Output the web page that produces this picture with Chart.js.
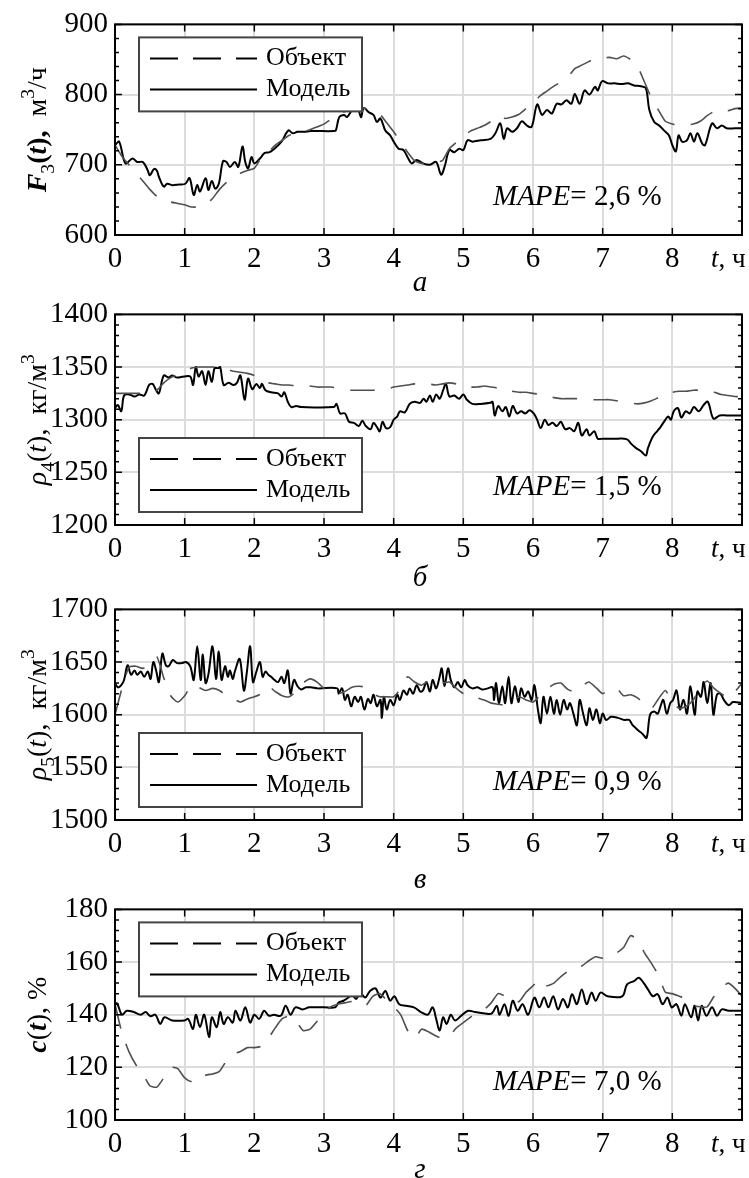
<!DOCTYPE html>
<html>
<head>
<meta charset="utf-8">
<script src="https://cdn.jsdelivr.net/npm/chart.js@4.4.1/dist/chart.umd.min.js"></script>
<style>
  body { margin: 0; background: #fff; width: 749px; height: 1178px; position: relative; overflow: hidden; }
  canvas { position: absolute; left: 0; }
</style>
</head>
<body>
<canvas id="p1" width="749" height="300" style="top:0px"></canvas>
<canvas id="p2" width="749" height="305" style="top:290px"></canvas>
<canvas id="p3" width="749" height="310" style="top:585px"></canvas>
<canvas id="p4" width="749" height="293" style="top:885px"></canvas>
<script>
// time grid of the "Объект" curves, h
const objHours = [0,0.1,0.2,0.3,0.4,0.5,0.6,0.7,0.8,0.9,1,1.1,1.2,1.3,1.4,1.5,1.6,1.7,1.8,1.9,2,2.1,2.2,2.3,2.4,2.5,2.6,2.7,2.8,2.9,3,3.1,3.2,3.3,3.4,3.5,3.6,3.7,3.8,3.9,4,4.1,4.2,4.3,4.4,4.5,4.6,4.7,4.8,4.9,5,5.1,5.2,5.3,5.4,5.5,5.6,5.7,5.8,5.9,6,6.1,6.2,6.3,6.4,6.5,6.6,6.7,6.8,6.9,7,7.1,7.2,7.3,7.4,7.5,7.6,7.7,7.8,7.9,8,8.1,8.2,8.3,8.4,8.5,8.6,8.7,8.8,8.9,9];
const xTicks = [0, 1, 2, 3, 4, 5, 6, 7, 8];

// --- a: F3(t), м3/ч
const f3Object = [728,712,700,688,677,665,655,650,647,645,643,640,640,643,652,665,675,683,688,692,695,710,718,728,735,742,745,747,750,754,758,765,770,776,780,782,780,776,772,760,747,733,718,706,702,702,704,706,723,732,740,748,752,756,762,770,766,768,772,780,788,798,805,812,818,825,837,842,847,852,852,853,851,855,850,840,818,795,778,762,758,756,757,758,762,770,776,778,777,780,781];
const f3ModelT = [0,.06,.15,.25,.32,.4,.47,.5,.56,.6,.63,.7,.75,.82,.92,1.01,1.07,1.13,1.18,1.22,1.3,1.34,1.39,1.44,1.49,1.55,1.6,1.65,1.72,1.77,1.83,1.87,1.91,1.96,2,2.08,2.15,2.22,2.29,2.39,2.49,2.55,2.62,2.72,2.81,3.14,3.17,3.22,3.29,3.33,3.4,3.47,3.53,3.57,3.64,3.71,3.76,3.81,3.88,3.95,4,4.07,4.14,4.21,4.26,4.33,4.42,4.52,4.61,4.68,4.73,4.8,4.87,4.94,5,5.06,5.13,5.25,5.39,5.46,5.53,5.58,5.63,5.7,5.77,5.84,5.91,5.98,6.06,6.13,6.2,6.27,6.34,6.41,6.48,6.55,6.6,6.67,6.74,6.81,6.89,6.93,6.99,7.08,7.17,7.27,7.36,7.45,7.55,7.62,7.67,7.74,7.81,7.88,7.95,8,8.05,8.09,8.14,8.21,8.26,8.31,8.36,8.43,8.47,8.57,8.64,8.71,8.78,8.9,9];
const f3Model = [728,733,702,709,704,704,692,685,694,692,683,669,673,671,672,673,681,657,671,662,681,664,677,666,673,705,704,697,704,697,726,704,695,711,702,709,717,718,723,733,749,745,747,747,748,748,749,768,771,768,778,787,768,781,775,771,761,766,749,742,733,723,721,709,702,707,702,700,704,686,697,721,718,723,721,735,733,735,737,745,759,737,752,747,752,762,756,754,786,771,778,773,787,786,792,787,801,787,806,800,811,806,819,816,816,815,816,813,812,809,778,761,756,749,742,728,719,742,733,735,745,733,745,730,728,759,752,756,752,752,752];

// --- б: ρ4(t), кг/м3
const r4Object = [1325,1325,1325,1325,1325,1326,1328,1335,1340,1343,1346,1349,1350,1350,1350,1350,1348,1346,1345,1344,1342,1338,1335,1334,1333,1333,1332,1332,1332,1331,1331,1331,1330,1329,1328,1328,1328,1328,1328,1329,1331,1332,1333,1334,1334,1334,1333,1334,1335,1334,1332,1331,1331,1332,1331,1330,1328,1327,1326,1326,1325,1324,1322,1321,1320,1320,1320,1320,1319,1319,1319,1319,1318,1317,1316,1315,1316,1318,1321,1324,1326,1327,1327,1328,1328,1327,1326,1324,1323,1322,1322];
const r4ModelT = [0,.04,.09,.13,.2,.28,.35,.42,.49,.54,.59,.63,.7,.77,.82,.89,.99,1.08,1.12,1.16,1.2,1.25,1.3,1.34,1.39,1.43,1.48,1.51,1.56,1.63,1.7,1.75,1.8,1.86,1.91,1.97,2.03,2.08,2.11,2.16,2.24,2.34,2.39,2.43,2.48,2.53,2.6,2.67,3.14,3.18,3.23,3.3,3.36,3.43,3.5,3.55,3.6,3.67,3.71,3.76,3.8,3.84,3.89,3.95,4,4.05,4.09,4.16,4.23,4.3,4.38,4.43,4.47,4.52,4.56,4.61,4.66,4.71,4.75,4.8,4.87,4.94,5,5.05,5.13,5.25,5.39,5.42,5.45,5.5,5.56,5.61,5.66,5.71,5.77,5.83,5.89,5.95,6.01,6.06,6.11,6.17,6.22,6.28,6.34,6.4,6.46,6.53,6.59,6.65,6.7,6.77,6.81,6.88,6.93,7,7.12,7.22,7.31,7.36,7.41,7.48,7.55,7.62,7.65,7.72,7.78,7.83,7.88,7.94,7.98,8.02,8.08,8.13,8.19,8.25,8.31,8.38,8.45,8.51,8.59,8.68,8.78,9];
const r4Model = [1311,1314,1308,1323,1324,1322,1324,1323,1333,1334,1328,1325,1342,1340,1342,1340,1341,1341,1333,1350,1341,1346,1333,1346,1336,1349,1349,1350,1333,1335,1333,1335,1342,1319,1339,1329,1334,1330,1334,1328,1326,1325,1322,1326,1317,1312,1313,1312,1312,1315,1306,1306,1298,1297,1294,1299,1294,1291,1297,1293,1289,1298,1292,1293,1300,1303,1308,1307,1315,1317,1316,1320,1317,1323,1317,1324,1320,1328,1334,1322,1323,1320,1324,1319,1315,1315,1316,1317,1304,1313,1308,1312,1303,1313,1306,1308,1306,1309,1306,1300,1292,1300,1295,1297,1294,1298,1291,1292,1289,1297,1285,1291,1285,1289,1282,1282,1282,1282,1282,1281,1277,1273,1270,1266,1273,1284,1289,1293,1298,1303,1300,1308,1311,1302,1308,1306,1312,1308,1314,1317,1301,1304,1304,1304];

// --- в: ρ5(t), кг/м3
const r5Object = [1600,1625,1645,1646,1644,1648,1655,1635,1618,1612,1618,1628,1626,1623,1625,1623,1618,1615,1612,1615,1617,1620,1627,1622,1618,1617,1622,1630,1634,1631,1625,1620,1620,1622,1626,1627,1626,1620,1617,1617,1617,1625,1636,1631,1628,1632,1632,1630,1631,1625,1620,1619,1616,1614,1611,1610,1609,1613,1617,1614,1612,1618,1624,1629,1630,1624,1622,1627,1631,1626,1620,1624,1625,1618,1619,1616,1610,1606,1615,1623,1612,1606,1608,1614,1625,1632,1625,1620,1616,1622,1630];
const r5ModelT = [0,.04,.09,.13,.18,.23,.28,.32,.37,.42,.47,.51,.55,.59,.63,.68,.73,.77,.83,.89,.96,1.02,1.08,1.13,1.18,1.23,1.26,1.3,1.34,1.4,1.45,1.49,1.53,1.58,1.62,1.65,1.69,1.72,1.79,1.85,1.89,1.94,1.98,2.03,2.08,2.12,2.16,2.2,2.24,2.29,2.34,2.39,2.43,2.48,2.52,2.57,2.62,2.67,2.74,2.81,2.91,3.19,3.21,3.26,3.3,3.34,3.39,3.44,3.49,3.53,3.58,3.63,3.67,3.71,3.76,3.81,3.83,3.86,3.9,3.95,4,4.05,4.09,4.14,4.19,4.23,4.28,4.33,4.38,4.42,4.47,4.52,4.56,4.61,4.66,4.69,4.73,4.78,4.82,4.87,4.92,4.97,5.02,5.06,5.13,5.2,5.27,5.35,5.42,5.44,5.47,5.51,5.56,5.6,5.65,5.69,5.74,5.79,5.83,5.88,5.93,5.98,6.02,6.07,6.11,6.15,6.2,6.25,6.3,6.34,6.39,6.44,6.49,6.53,6.58,6.63,6.67,6.72,6.77,6.81,6.86,6.91,6.96,7,7.05,7.12,7.22,7.31,7.38,7.43,7.48,7.53,7.57,7.63,7.68,7.74,7.79,7.83,7.87,7.92,7.97,8.01,8.06,8.11,8.16,8.21,8.26,8.32,8.36,8.41,8.45,8.5,8.55,8.59,8.64,8.69,8.74,8.81,8.87,9];
const r5Model = [1630,1626,1628,1633,1647,1638,1642,1638,1641,1636,1641,1634,1650,1642,1631,1658,1647,1646,1652,1649,1649,1650,1646,1633,1665,1633,1657,1630,1638,1665,1634,1660,1633,1646,1636,1642,1634,1641,1653,1623,1639,1665,1631,1641,1650,1636,1641,1638,1636,1633,1631,1636,1630,1642,1620,1633,1627,1624,1626,1626,1625,1625,1620,1625,1614,1619,1608,1617,1612,1617,1605,1615,1611,1619,1608,1614,1597,1617,1605,1614,1609,1619,1614,1623,1619,1625,1620,1628,1622,1623,1631,1622,1633,1625,1636,1644,1627,1644,1633,1626,1631,1626,1633,1628,1625,1626,1624,1625,1626,1614,1630,1611,1627,1611,1636,1611,1627,1612,1625,1617,1622,1614,1628,1605,1592,1617,1601,1617,1601,1614,1600,1614,1605,1611,1601,1590,1614,1601,1590,1606,1595,1605,1592,1601,1595,1598,1597,1595,1595,1590,1587,1584,1582,1578,1600,1603,1601,1608,1614,1601,1611,1614,1623,1605,1614,1601,1627,1600,1622,1617,1631,1611,1630,1600,1619,1620,1614,1609,1612,1611];

// --- г: c(t), %
const cObject = [144,133,126,121,117.5,113,112.5,116,120,119.5,116,114.5,114.5,117,117.5,118.5,122.5,125,126,127.5,127.5,128,131,135,138.5,139.5,137.5,134,134.5,137.5,141,143,144,144.5,145,144,143.5,147,148,145.5,143,140,134,131,134.5,133.5,132,131,132,135,137,139,141,142,144.5,148,147,145,145,148.5,151,153.5,151,152,154.5,156.5,158,158.5,160.5,162,161.5,163,163.5,165.5,170,168.5,163.5,159.5,155,148.5,148,147,146,143.5,143,143,147,150,152,150,147];
const cModelT = [0,.03,.1,.17,.27,.37,.44,.51,.58,.65,.71,.82,1,1.05,1.12,1.16,1.22,1.28,1.35,1.39,1.46,1.51,1.56,1.62,1.69,1.73,1.8,1.87,1.94,2,2.07,2.14,2.21,2.28,2.38,2.45,2.52,2.59,2.69,2.79,3,3.16,3.21,3.28,3.35,3.4,3.46,3.52,3.59,3.66,3.74,3.81,3.88,3.95,4.01,4.08,4.18,4.29,4.39,4.49,4.56,4.61,4.66,4.71,4.76,4.82,4.88,4.97,5.07,5.17,5.31,5.41,5.48,5.52,5.59,5.65,5.71,5.78,5.85,5.93,6.02,6.09,6.16,6.22,6.29,6.36,6.43,6.5,6.56,6.63,6.7,6.77,6.84,6.9,6.97,7.07,7.28,7.35,7.45,7.52,7.59,7.65,7.72,7.79,7.86,7.93,7.99,8.06,8.13,8.18,8.27,8.32,8.37,8.42,8.49,8.57,8.64,8.71,8.81,9];
const cModel = [144,144.3,140,141.5,141,140,141,139.4,140,136.5,139,137.8,137.8,138.4,134.6,140,135.3,140,131.5,139,135.3,141,136.5,139,137,141.5,137.8,142.8,137,140,138.4,141.5,139.6,140,139.6,143.4,140,142.8,142,142.8,142.8,142.8,144.6,145.3,146.5,147.8,146,148.4,146.5,149,150,146.5,149,145.3,147,144,143.4,142.8,141,140,142.8,138.4,134,139,136.5,140,137.8,139.6,141.5,141,140.5,140.5,143.4,140,144,139.6,145.3,141.5,144,140,146.5,142.8,146.5,142.8,147,142,146,142.8,147.8,144,149.6,144,148.4,145.3,148.4,147,147,151.5,152.8,154,152,149.6,147,147.8,144,146.5,142.8,144,139.6,144,139,143.4,137.8,143.4,139.6,142.8,139.6,142,141.5,141.5];

const seriesNames = ["Объект", "Модель"];
const mapeValues = ["2,6", "1,5", "0,9", "7,0"];
const subLetters = ["а", "б", "в", "г"];

const SERIF = '"Liberation Serif", "Times New Roman", serif';

function pairs(xs, ys) {
  return ys.map((v, i) => ({ x: xs[i], y: v }));
}

// text pieces: [text, style, shift]
function pieceFont(style, size) {
  let f = "";
  if (style.includes("i")) f += "italic ";
  if (style.includes("b")) f += "bold ";
  return f + size + "px " + SERIF;
}

function drawPieces(ctx, pieces, x, y, size, align) {
  let total = 0;
  const widths = pieces.map(([t, st, sh]) => {
    ctx.font = pieceFont(st, sh ? size * 0.7 : size);
    const w = ctx.measureText(t).width;
    total += w;
    return w;
  });
  let cx = align === "center" ? x - total / 2 : x;
  pieces.forEach(([t, st, sh], i) => {
    ctx.font = pieceFont(st, sh ? size * 0.7 : size);
    let dy = 0;
    if (sh === "sub") dy = size * 0.3;
    if (sh === "sup") dy = -size * 0.42;
    ctx.fillText(t, cx, y + dy);
    cx += widths[i];
  });
}

const decor = {
  id: "decor",
  afterDraw(chart, args, o) {
    const { ctx, chartArea: a, scales } = chart;
    const x = scales.x, y = scales.y;
    ctx.save();

    // inward ticks, major and minor
    ctx.strokeStyle = "#000";
    ctx.lineWidth = 1.5;
    ctx.beginPath();
    const yt = y.ticks.map(t => t.value);
    yt.forEach((v, i) => {
      const py = y.getPixelForValue(v);
      ctx.moveTo(a.left, py); ctx.lineTo(a.left + 7, py);
      ctx.moveTo(a.right, py); ctx.lineTo(a.right - 7, py);
      if (i < yt.length - 1) {
        for (let k = 1; k < 5; k++) {
          const pm = y.getPixelForValue(v + (yt[i + 1] - v) * k / 5);
          ctx.moveTo(a.left, pm); ctx.lineTo(a.left + 4, pm);
          ctx.moveTo(a.right, pm); ctx.lineTo(a.right - 4, pm);
        }
      }
    });
    xTicks.forEach(v => {
      const px = x.getPixelForValue(v);
      ctx.moveTo(px, a.top); ctx.lineTo(px, a.top + 7);
      ctx.moveTo(px, a.bottom); ctx.lineTo(px, a.bottom - 7);
    });
    ctx.stroke();

    ctx.lineWidth = 2;
    ctx.strokeRect(a.left, a.top, a.right - a.left, a.bottom - a.top);

    // legend box
    const lt = o.legendTop ? a.top + 13 : a.bottom - 13 - 74;
    ctx.fillStyle = "#fff";
    ctx.fillRect(139, lt, 223, 74);
    ctx.strokeStyle = "#444";
    ctx.lineWidth = 2;
    ctx.strokeRect(139, lt, 223, 74);
    ctx.strokeStyle = "#000";
    ctx.setLineDash([28, 15]);
    ctx.beginPath(); ctx.moveTo(150, lt + 21); ctx.lineTo(257, lt + 21); ctx.stroke();
    ctx.setLineDash([]);
    ctx.beginPath(); ctx.moveTo(150, lt + 52); ctx.lineTo(257, lt + 52); ctx.stroke();
    ctx.fillStyle = "#000";
    ctx.textBaseline = "middle";
    ctx.textAlign = "left";
    ctx.font = "26px " + SERIF;
    ctx.fillText(chart.data.datasets[0].label, 266, lt + 21);
    ctx.fillText(chart.data.datasets[1].label, 266, lt + 52);

    // MAPE
    drawPieces(ctx, [["MAPE", "i"], ["= " + o.mape + " %", "n"]], 493, a.bottom - 38, 29, "left");

    // x axis name
    drawPieces(ctx, [["t", "i"], [", ч", "n"]], 711, a.bottom + 25, 27, "left");

    // panel letter
    drawPieces(ctx, [[o.letter, "i"]], 420, a.bottom + o.letterDy, 29, "center");

    // y axis title, rotated
    ctx.translate(46, (a.top + a.bottom) / 2);
    ctx.rotate(-Math.PI / 2);
    ctx.textBaseline = "alphabetic";
    drawPieces(ctx, o.title, 0, 0, 28, "center");
    ctx.restore();
  }
};

const panels = [
  { id: "p1", obj: f3Object, t: f3ModelT, mod: f3Model, min: 600, max: 900, step: 100, legendTop: true, letterDy: 48,
    title: [["F", "bi"], ["3", "n", "sub"], ["(", "b"], ["t", "bi"], ["),", "b"], ["  м", "n"], ["3", "n", "sup"], ["/ч", "n"]] },
  { id: "p2", obj: r4Object, t: r4ModelT, mod: r4Model, min: 1200, max: 1400, step: 50, legendTop: false, letterDy: 53,
    title: [["ρ", "i"], ["4", "n", "sub"], ["(", "n"], ["t", "i"], ["),  кг/м", "n"], ["3", "n", "sup"]] },
  { id: "p3", obj: r5Object, t: r5ModelT, mod: r5Model, min: 1500, max: 1700, step: 50, legendTop: false, letterDy: 60,
    title: [["ρ", "i"], ["5", "n", "sub"], ["(", "n"], ["t", "i"], ["),  кг/м", "n"], ["3", "n", "sup"]] },
  { id: "p4", obj: cObject, t: cModelT, mod: cModel, min: 100, max: 180, step: 20, legendTop: true, letterDy: 50,
    title: [["c", "bi"], ["(", "n"], ["t", "bi"], ["), %", "n"]] }
];

panels.forEach((p, i) => {
  const canvas = document.getElementById(p.id);
  const h = canvas.height;
  new Chart(canvas.getContext("2d"), {
    type: "line",
    data: {
      datasets: [
        {
          label: seriesNames[0],
          data: pairs(objHours, p.obj),
          borderColor: "#505050",
          borderWidth: 1.6,
          borderDash: [25, 16],
          pointRadius: 0,
          tension: 0.2,
          fill: false
        },
        {
          label: seriesNames[1],
          data: pairs(p.t, p.mod),
          borderColor: "#000",
          borderWidth: 2,
          pointRadius: 0,
          tension: 0.35,
          fill: false
        }
      ]
    },
    options: {
      responsive: false,
      animation: false,
      layout: { padding: { top: 24, right: 1, left: 0, bottom: 0 } },
      plugins: {
        legend: { display: false },
        tooltip: { enabled: false },
        decor: { legendTop: p.legendTop, mape: mapeValues[i], letter: subLetters[i], letterDy: p.letterDy, title: p.title }
      },
      scales: {
        x: {
          type: "linear",
          min: 0,
          max: 9,
          afterFit: s => { s.height = h - 24 - 211; },
          grid: { color: "#dcdcdc", lineWidth: 2, drawTicks: false },
          border: { display: false },
          ticks: {
            stepSize: 1,
            autoSkip: false,
            maxRotation: 0,
            padding: 7,
            color: "#000",
            font: { family: SERIF, size: 29 },
            callback: v => (v < 9 ? String(v) : "")
          }
        },
        y: {
          min: p.min,
          max: p.max,
          afterFit: s => { s.width = 115; },
          grid: { color: "#dcdcdc", lineWidth: 2, drawTicks: false },
          border: { display: false },
          ticks: {
            stepSize: p.step,
            padding: 7,
            color: "#000",
            font: { family: SERIF, size: 29 },
            callback: v => String(v)
          }
        }
      }
    },
    plugins: [decor]
  });
});
</script>
</body>
</html>
